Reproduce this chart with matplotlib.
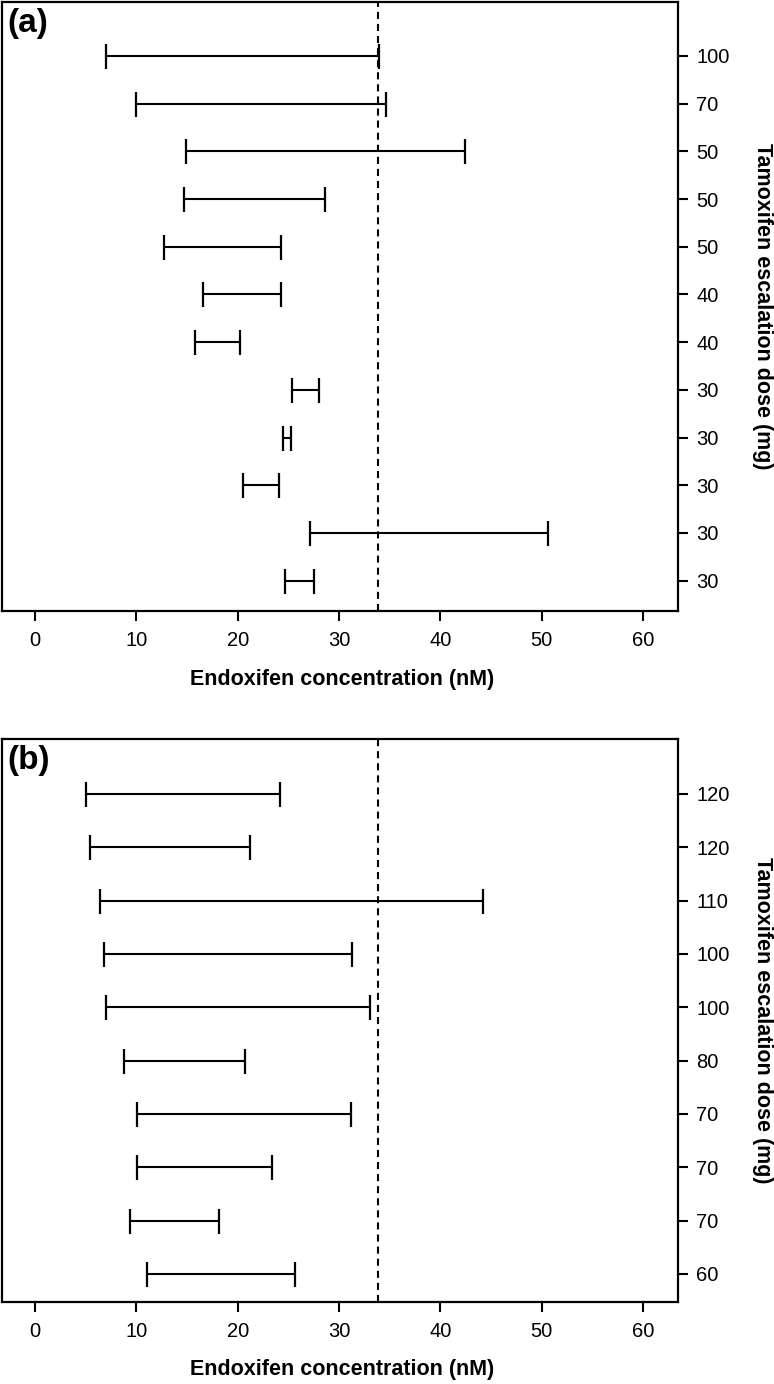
import numpy as np
import matplotlib
matplotlib.use("Agg")
import matplotlib.pyplot as plt

plt.rcParams['font.family'] = ['Liberation Sans', 'DejaVu Sans']

# panel (a): intervals listed top to bottom
dose_a = ['100', '70', '50', '50', '50', '40', '40', '30', '30', '30', '30', '30']
low_a = [7.0, 10.0, 14.9, 14.7, 12.7, 16.6, 15.8, 25.4, 24.5, 20.5, 27.1, 24.7]
high_a = [33.9, 34.6, 42.4, 28.6, 24.3, 24.3, 20.2, 28.0, 25.3, 24.1, 50.6, 27.5]

# panel (b)
dose_b = ['120', '120', '110', '100', '100', '80', '70', '70', '70', '60']
low_b = [5.0, 5.4, 6.4, 6.8, 7.0, 8.8, 10.1, 10.1, 9.4, 11.1]
high_b = [24.2, 21.2, 44.2, 31.3, 33.0, 20.7, 31.2, 23.4, 18.2, 25.7]

ref_line = 33.8
x_ticks = [0, 10, 20, 30, 40, 50, 60]

W, H = 774, 1384
fig = plt.figure(figsize=(W / 100, H / 100), dpi=100)


def panel(rect, tag, doses, low, high, ylim):
    ax = fig.add_axes(rect)
    n = len(doses)
    y = np.arange(n, 0, -1)
    low = np.array(low)
    high = np.array(high)
    mid = (low + high) / 2
    ax.errorbar(mid, y, xerr=(high - low) / 2, fmt='none', ecolor='black',
                elinewidth=1.5, capsize=9, capthick=1.6)
    ax.axvline(ref_line, color='black', lw=1.5, linestyle=(0, (3.4, 2.4)))
    ax.set_xlim(-3.25, 63.4)
    ax.set_ylim(*ylim)
    ax.set_xticks(x_ticks)
    ax.yaxis.tick_right()
    ax.set_yticks(y, doses)
    ax.tick_params(axis='both', direction='out', length=7.2, width=1.5,
                   labelsize=14.5, colors='black')
    ax.tick_params(axis='x', pad=7)
    ax.tick_params(axis='y', pad=6)
    for s in ax.spines.values():
        s.set_linewidth(1.6)
    ax.text(0.008, 0.99, tag, transform=ax.transAxes, ha='left', va='top',
            fontsize=24, fontweight='bold')
    return ax


ax_a = panel([2 / W, 1 - 611 / H, 675.7 / W, 609 / H], '(a)',
             dose_a, low_a, high_a, (0.365, 13.13))
ax_b = panel([2 / W, 1 - 1302 / H, 675.7 / W, 563 / H], '(b)',
             dose_b, low_b, high_b, (0.475, 11.03))

for yc in (680, 1370):
    fig.text(342 / W, 1 - yc / H, 'Endoxifen concentration (nM)', ha='center',
             va='center', fontsize=15.5, fontweight='bold')
for yc in (306, 1020):
    fig.text(763 / W, 1 - yc / H, 'Tamoxifen escalation dose (mg)', ha='center',
             va='center', rotation=270, fontsize=15.5, fontweight='bold')

fig.savefig('out.png', dpi=100)
